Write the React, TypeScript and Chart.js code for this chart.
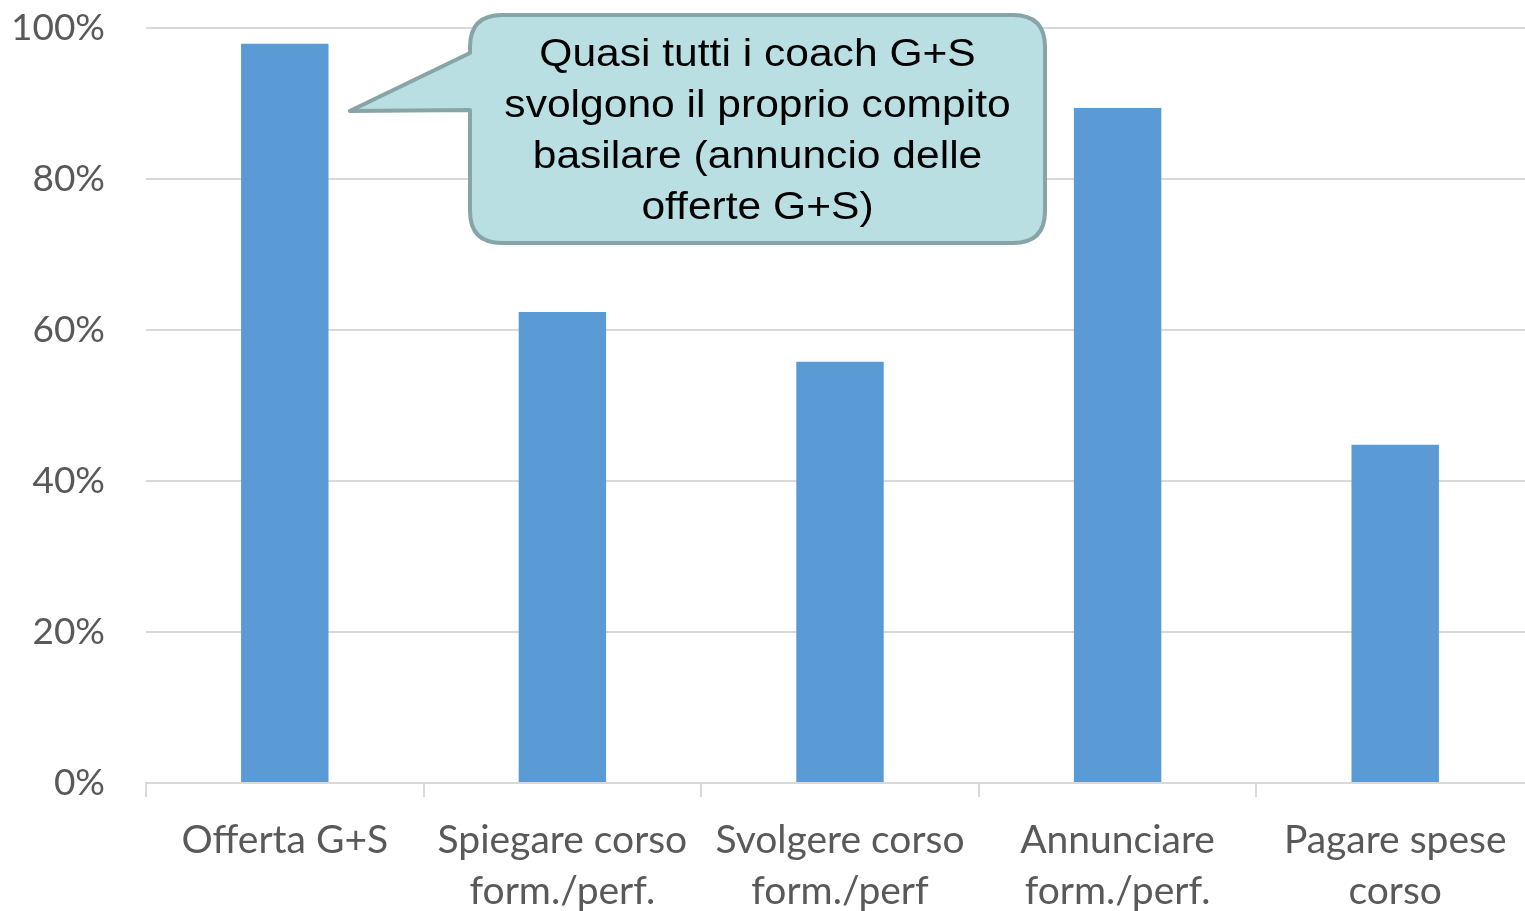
import React, { useEffect, useRef } from "react";
import { Chart, registerables } from "chart.js";

Chart.register(...registerables);

const categories: string[][] = [
  ["Offerta G+S"],
  ["Spiegare corso", "form./perf."],
  ["Svolgere corso", "form./perf"],
  ["Annunciare", "form./perf."],
  ["Pagare spese", "corso"],
];
const values: number[] = [97.9, 62.4, 55.8, 89.4, 44.8];
const yTicks: number[] = [0, 20, 40, 60, 80, 100];
const calloutLines: string[] = [
  "Quasi tutti i coach G+S",
  "svolgono il proprio compito",
  "basilare (annuncio delle",
  "offerte G+S)",
];

const calloutPlugin = {
  id: "callout",
  afterDraw(chart: any) {
    const ctx = chart.ctx;
    const xs = chart.scales.x;
    const ys = chart.scales.y;
    const tipX = xs.getPixelForValue(0) + 65;
    const tipY = ys.getPixelForValue(89);
    const left = 470, right = 1045, top = 15, bottom = 243, r = 32;
    const pTop = 53, pBot = 110;
    ctx.save();
    ctx.beginPath();
    ctx.moveTo(left + r, top);
    ctx.lineTo(right - r, top);
    ctx.quadraticCurveTo(right, top, right, top + r);
    ctx.lineTo(right, bottom - r);
    ctx.quadraticCurveTo(right, bottom, right - r, bottom);
    ctx.lineTo(left + r, bottom);
    ctx.quadraticCurveTo(left, bottom, left, bottom - r);
    ctx.lineTo(left, pBot);
    ctx.lineTo(tipX, tipY);
    ctx.lineTo(left, pTop);
    ctx.lineTo(left, top + r);
    ctx.quadraticCurveTo(left, top, left + r, top);
    ctx.closePath();
    ctx.fillStyle = "#b9dfe3";
    ctx.fill();
    ctx.lineWidth = 4;
    ctx.lineJoin = "round";
    ctx.strokeStyle = "#87a5a6";
    ctx.stroke();
    ctx.fillStyle = "#000000";
    ctx.font = "38px 'Liberation Sans', Arial, sans-serif";
    ctx.textAlign = "center";
    ctx.textBaseline = "middle";
    const cx = (left + right) / 2;
    const sx = 1.12;
    calloutLines.forEach((line, i) => {
      ctx.save();
      ctx.translate(cx, 56 + i * 51);
      ctx.scale(sx, 1);
      ctx.fillText(line, 0, 0);
      ctx.restore();
    });
    ctx.restore();
  },
};

export default function App() {
  const canvasRef = useRef<HTMLCanvasElement>(null);
  useEffect(() => {
    document.body.style.margin = "0";
    document.body.style.overflow = "hidden";
    const chart = new Chart(canvasRef.current!, {
      type: "bar",
      data: {
        labels: categories,
        datasets: [
          {
            data: values,
            backgroundColor: "#5b9bd5",
            borderWidth: 0,
            barPercentage: 0.315,
            categoryPercentage: 1,
          },
        ],
      },
      options: {
        animation: false,
        responsive: false,
        maintainAspectRatio: false,
        layout: { padding: { top: 28, right: 0, left: 0, bottom: 0 } },
        plugins: { legend: { display: false }, tooltip: { enabled: false } },
        scales: {
          x: {
            offset: true,
            grid: {
              offset: true,
              drawOnChartArea: false,
              tickLength: 14,
              color: "#d9d9d9",
              lineWidth: 2,
            },
            border: { display: true, color: "#d9d9d9", width: 2 },
            ticks: {
              color: "#595959",
              font: { family: "Lato, 'Open Sans', sans-serif", size: 39, lineHeight: "51px" },
              padding: 18,
              maxRotation: 0,
              autoSkip: false,
            },
            afterFit(scale: any) {
              scale.height = 128;
              scale.paddingLeft = 0;
              scale.paddingRight = 0;
            },
          },
          y: {
            min: 0,
            max: 100,
            afterBuildTicks(scale: any) {
              scale.ticks = yTicks.map((v) => ({ value: v }));
            },
            grid: { color: "#d9d9d9", lineWidth: 2, drawTicks: false },
            border: { display: false },
            ticks: {
              color: "#595959",
              font: { family: "Lato, 'Open Sans', sans-serif", size: 37 },
              padding: 41,
              callback: (v: any) => v + "%",
            },
            afterFit(scale: any) {
              scale.width = 146;
              scale.paddingTop = 0;
              scale.paddingBottom = 0;
            },
          },
        },
      },
      plugins: [calloutPlugin],
    });
    return () => chart.destroy();
  }, []);
  return (
    <div style={{ width: 1525, height: 911, overflow: "hidden" }}>
      <canvas ref={canvasRef} width={1534} height={911} style={{ display: "block" }} />
    </div>
  );
}
